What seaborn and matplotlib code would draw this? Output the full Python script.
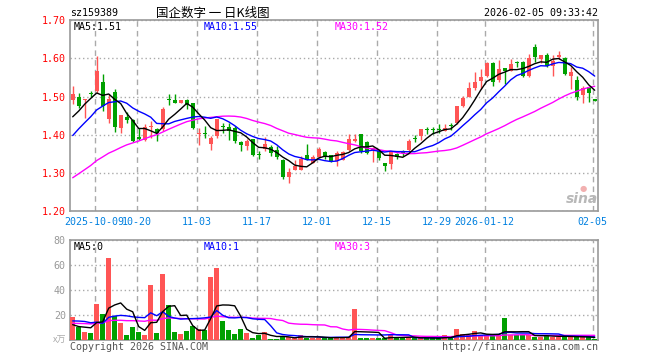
import numpy as np
import pandas as pd
import matplotlib
matplotlib.use("Agg")
import matplotlib.pyplot as plt
import seaborn as sns

# ---------------- data ----------------
dates = ["2025-10-09", "10-20", "11-03", "11-17", "12-01", "12-15", "12-29", "2026-01-12", "02-05"]
date_idx = [4, 11, 21, 31, 41, 51, 61, 69, 87]

open_ = [1.491, 1.499, 1.490, 1.507, 1.515, 1.537, 1.440, 1.512, 1.418, 1.446,
         1.438, 1.393, 1.386, 1.420, 1.414, 1.414, 1.491, 1.490, 1.484, 1.490,
         1.482, 1.402, 1.404, 1.377, 1.396, 1.422, 1.421, 1.418, 1.381, 1.370,
         1.388, 1.349, 1.362, 1.368, 1.361, 1.335, 1.289, 1.309, 1.309, 1.346,
         1.326, 1.342, 1.355, 1.346, 1.331, 1.335, 1.359, 1.383, 1.401, 1.382,
         1.360, 1.357, 1.325, 1.323, 1.351, 1.354, 1.361, 1.391, 1.396, 1.413,
         1.413, 1.416, 1.411, 1.424, 1.432, 1.474, 1.500, 1.521, 1.541, 1.553,
         1.588, 1.543, 1.575, 1.568, 1.588, 1.591, 1.554, 1.629, 1.598, 1.609,
         1.581, 1.603, 1.600, 1.554, 1.543, 1.504, 1.524, 1.493]
close = [1.506, 1.475, 1.491, 1.506, 1.568, 1.475, 1.493, 1.421, 1.451, 1.439,
         1.383, 1.388, 1.421, 1.421, 1.405, 1.467, 1.490, 1.484, 1.491, 1.478,
         1.418, 1.403, 1.403, 1.391, 1.440, 1.421, 1.410, 1.383, 1.372, 1.385,
         1.348, 1.348, 1.377, 1.353, 1.342, 1.289, 1.302, 1.318, 1.337, 1.335,
         1.342, 1.364, 1.342, 1.331, 1.353, 1.354, 1.388, 1.390, 1.357, 1.353,
         1.366, 1.339, 1.318, 1.354, 1.342, 1.353, 1.385, 1.390, 1.414, 1.412,
         1.412, 1.412, 1.418, 1.423, 1.474, 1.497, 1.521, 1.539, 1.552, 1.588,
         1.539, 1.572, 1.568, 1.585, 1.587, 1.553, 1.600, 1.604, 1.609, 1.581,
         1.594, 1.609, 1.559, 1.563, 1.499, 1.522, 1.510, 1.488]
high = [1.528, 1.509, 1.493, 1.515, 1.607, 1.559, 1.506, 1.519, 1.453, 1.460,
        1.442, 1.418, 1.427, 1.436, 1.418, 1.472, 1.506, 1.506, 1.491, 1.493,
        1.484, 1.418, 1.423, 1.396, 1.442, 1.432, 1.432, 1.423, 1.383, 1.388,
        1.390, 1.358, 1.393, 1.374, 1.370, 1.337, 1.314, 1.335, 1.344, 1.377,
        1.348, 1.368, 1.357, 1.348, 1.357, 1.357, 1.401, 1.401, 1.401, 1.383,
        1.368, 1.360, 1.325, 1.357, 1.353, 1.360, 1.390, 1.400, 1.416, 1.421,
        1.421, 1.427, 1.429, 1.430, 1.475, 1.502, 1.537, 1.565, 1.572, 1.589,
        1.589, 1.596, 1.575, 1.598, 1.594, 1.592, 1.611, 1.638, 1.609, 1.614,
        1.609, 1.619, 1.603, 1.576, 1.554, 1.528, 1.526, 1.493]
low = [1.480, 1.471, 1.445, 1.500, 1.510, 1.462, 1.432, 1.407, 1.404, 1.432,
       1.381, 1.386, 1.383, 1.392, 1.383, 1.409, 1.479, 1.484, 1.482, 1.467,
       1.414, 1.372, 1.392, 1.361, 1.391, 1.405, 1.386, 1.379, 1.357, 1.361,
       1.344, 1.337, 1.358, 1.344, 1.337, 1.285, 1.273, 1.307, 1.307, 1.333,
       1.325, 1.340, 1.337, 1.329, 1.318, 1.333, 1.357, 1.381, 1.353, 1.351,
       1.328, 1.335, 1.306, 1.311, 1.338, 1.345, 1.357, 1.382, 1.386, 1.401,
       1.403, 1.404, 1.409, 1.412, 1.429, 1.472, 1.498, 1.518, 1.519, 1.551,
       1.528, 1.539, 1.534, 1.566, 1.576, 1.552, 1.552, 1.589, 1.587, 1.576,
       1.554, 1.597, 1.556, 1.519, 1.491, 1.484, 1.486, 1.488]
volume = [18.5, 11.0, 6.7, 5.6, 29.2, 21.1, 66.0, 19.5, 13.6, 4.3,
          10.7, 6.7, 4.3, 44.4, 5.9, 53.3, 28.1, 6.7, 5.1, 7.5,
          11.5, 8.8, 8.3, 50.8, 58.0, 15.5, 8.3, 5.4, 9.1, 5.8,
          2.0, 4.5, 6.5, 1.1, 1.1, 2.4, 2.6, 2.6, 4.3, 2.2,
          2.2, 2.2, 1.6, 2.2, 2.4, 2.4, 2.8, 25.0, 1.6, 1.6,
          1.6, 1.6, 1.6, 4.3, 2.0, 2.0, 2.4, 2.0, 1.6, 1.6,
          1.6, 1.6, 4.0, 2.0, 9.0, 5.0, 4.0, 7.5, 4.0, 4.0,
          4.0, 4.0, 18.0, 4.0, 4.0, 4.5, 4.0, 3.0, 3.0, 4.0,
          3.0, 3.0, 3.0, 2.5, 3.0, 2.5, 2.5, 1.0]

# estimated sessions before the visible window (only feed the moving averages)
hist_close = [1.16, 1.17, 1.18, 1.18, 1.19, 1.20, 1.21, 1.22, 1.23, 1.23,
              1.24, 1.24, 1.25, 1.26, 1.26, 1.27, 1.28, 1.29, 1.29, 1.30,
              1.30, 1.33, 1.35, 1.39, 1.375, 1.40, 1.401, 1.431, 1.497]
hist_vol = [14, 11, 13, 12, 15, 10, 13, 12, 14, 11, 13, 12, 15, 12, 13, 11, 14, 12, 13, 13,
            12, 10, 16, 24, 30.5, 18.5, 9.2, 8.1, 8.2]

price_ticks = [1.20, 1.30, 1.40, 1.50, 1.60, 1.70]
vol_ticks = [20, 40, 60, 80]
price_legend = ["MA5:1.51", "MA10:1.55", "MA30:1.52"]
vol_legend = ["MA5:0", "MA10:1", "MA30:3"]

# ---------------- computations ----------------
n = len(close)
x = np.arange(n)
nh = len(hist_close)
cs = pd.Series(hist_close + close)
vs = pd.Series(hist_vol + volume)
ma = {w: cs.rolling(w).mean().iloc[nh:].to_numpy() for w in (5, 10, 30)}
vma = {w: vs.rolling(w).mean().iloc[nh:].to_numpy() for w in (5, 10, 30)}

o = np.array(open_); c = np.array(close); h = np.array(high); l = np.array(low)
up = c >= o
RED, GREEN = "#FF5555", "#00A000"
cols = np.where(up, RED, GREEN)
ma_cols = {5: "black", 10: "#0000FF", 30: "#FF00FF"}

# ---------------- figure ----------------
sns.set_theme(style="white")
plt.rcParams['font.family'] = ['DejaVu Sans Mono', 'Noto Sans CJK SC']
plt.rcParams['axes.linewidth'] = 1.0

W, H = 660, 360
fig = plt.figure(figsize=(W / 100, H / 100), dpi=100)
fig.patch.set_facecolor("white")

def fx(px):
    return px / W

def fy(py):
    return 1 - py / H

L, R = 70, 598
ax = fig.add_axes([fx(L), fy(211.3), fx(R - L), (211.3 - 20) / H])
axv = fig.add_axes([fx(L), fy(340.3), fx(R - L), (340.3 - 240.3) / H])

tick_pos = [i - 0.33 for i in date_idx]
GRID = "#AAAAAA"
for a in (ax, axv):
    a.set_facecolor("white")
    a.set_xlim(-0.45, 87.55)
    for s in a.spines.values():
        s.set_color("#999999")
        s.set_linewidth(1.2)
    a.set_xticks(tick_pos)
    a.xaxis.grid(True, color=GRID, linestyle=(0, (4, 3)), linewidth=1)
    a.yaxis.grid(True, color=GRID, linestyle=(0, (1, 2)), linewidth=1)
    a.tick_params(length=0)
    a.set_axisbelow(True)

# price panel
ax.set_ylim(1.20, 1.70)
ax.set_yticks(price_ticks)
ax.set_yticklabels([f"{t:.2f}" for t in price_ticks], color="#FF0000", fontsize=7.2)
ax.tick_params(axis="y", pad=3)
ax.set_xticklabels(dates, color="#0080E0", fontsize=7.2)
ax.tick_params(axis="x", pad=4)

ax.vlines(x, l, h, colors=cols, linewidth=1, zorder=3)
body = np.maximum(np.abs(c - o), 0.0028)
ax.bar(x, body, bottom=np.minimum(o, c), width=0.72, color=cols, linewidth=0, zorder=4)
for w in (30, 10, 5):
    sns.lineplot(x=x, y=ma[w], ax=ax, color=ma_cols[w], linewidth=1, zorder=5)

# volume panel
axv.set_ylim(0, 80)
axv.set_yticks(vol_ticks)
axv.set_yticklabels([str(t) for t in vol_ticks], color="#999999", fontsize=7.2)
axv.tick_params(axis="y", pad=3)
axv.set_xticklabels([])
axv.bar(x, volume, width=0.78, color=cols, linewidth=0, zorder=3)
for w in (30, 10, 5):
    sns.lineplot(x=x, y=vma[w], ax=axv, color=ma_cols[w], linewidth=1, zorder=5)

# texts
fs = 7.2
fig.text(fx(70), fy(13), "sz159389", fontsize=fs, color="black", va="center", ha="left")
fig.text(fx(213), fy(13), "国企数字 一 日K线图", fontsize=9, color="black", va="center", ha="center",
         family=["Noto Sans CJK SC", "DejaVu Sans"])
fig.text(fx(598), fy(13), "2026-02-05 09:33:42", fontsize=fs, color="black", va="center", ha="right")

leg_x = [74, 204, 335]
for t, xx, w in zip(price_legend, leg_x, (5, 10, 30)):
    fig.text(fx(xx), fy(26.5), t, fontsize=fs, color=ma_cols[w], va="center", ha="left")
for t, xx, w in zip(vol_legend, leg_x, (5, 10, 30)):
    fig.text(fx(xx), fy(246.5), t, fontsize=fs, color=ma_cols[w], va="center", ha="left")

fig.text(fx(66), fy(340), "x万", fontsize=6.5, color="#AAAAAA", va="center", ha="right",
         family=["Noto Sans CJK SC", "DejaVu Sans"])
fig.text(fx(70), fy(347.5), "Copyright 2026 SINA.COM", fontsize=fs, color="#555555", va="center", ha="left")
fig.text(fx(598), fy(347.5), "http://finance.sina.com.cn", fontsize=fs, color="#555555", va="center", ha="right")

# sina watermark
fig.text(fx(582), fy(199), "sina", fontsize=10, color="#B8B8B8", fontweight="bold", style="italic",
         va="center", ha="center", family="DejaVu Sans")
fig.text(fx(583), fy(188), "●", fontsize=6, color="#F2B0B0", va="center", ha="center", family="DejaVu Sans")

fig.savefig("out.png", dpi=100, facecolor="white")
